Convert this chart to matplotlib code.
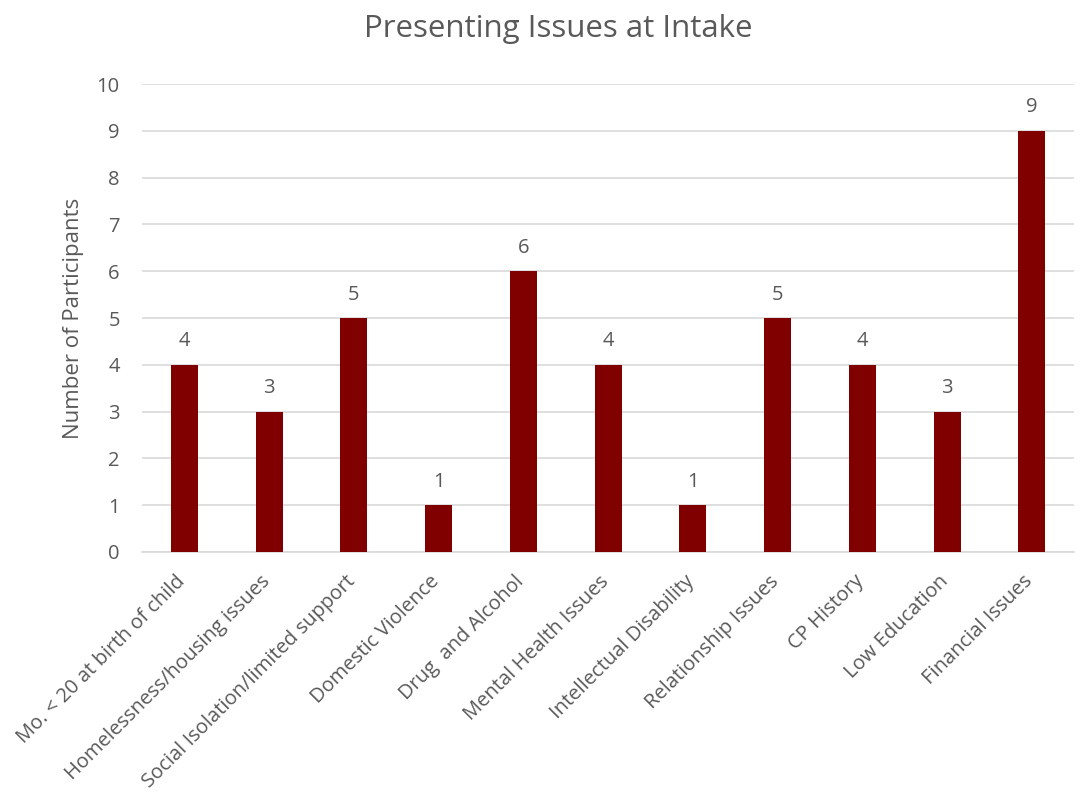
import matplotlib
matplotlib.use("Agg")
import matplotlib.pyplot as plt
import matplotlib.transforms as mtransforms
import numpy as np

plt.rcParams['font.family'] = ['Open Sans', 'DejaVu Sans']

categories = ["Mo. < 20 at birth of child", "Homelessness/housing issues",
              "Social Isolation/limited support", "Domestic Violence",
              "Drug  and Alcohol", "Mental Health Issues", "Intellectual Disability",
              "Relationship Issues", "CP History", "Low Education", "Financial Issues"]
counts = [4, 3, 5, 1, 6, 4, 1, 5, 4, 3, 9]

text_c = '#595959'
bar_c = '#800000'

fig = plt.figure(figsize=(10.84, 7.95), dpi=100)
ax = fig.add_axes([0.131, 0.3057, 0.86, 0.5886])

x = np.arange(len(categories))
bars = ax.bar(x, counts, width=0.32, color=bar_c, zorder=3)
for xi, v in zip(x, counts):
    ax.text(xi, v + 0.5, str(v), ha='center', va='center', fontsize=14.5, color=text_c)

ax.set_xlim(-0.5, len(categories) - 0.5)
ax.set_ylim(0, 10)
ax.set_yticks(range(0, 11))
ax.yaxis.grid(True, color='#d9d9d9', linewidth=1.2, zorder=0)
ax.set_axisbelow(True)
for s in ['top', 'right', 'left']:
    ax.spines[s].set_visible(False)
ax.spines['bottom'].set_color('#d9d9d9')
ax.spines['bottom'].set_linewidth(1.2)
ax.tick_params(axis='both', length=0, colors=text_c, labelsize=14.5)
ax.tick_params(axis='y', pad=16)
ax.set_xticks(x)
ax.set_xticklabels(categories, rotation=45, ha='right', rotation_mode='anchor')
ax.tick_params(axis='x', pad=14)
# shift rotated labels a little left, like the original
shift = mtransforms.ScaledTranslation(-0.09, 0, fig.dpi_scale_trans)
for lab in ax.get_xticklabels():
    lab.set_transform(lab.get_transform() + shift)
ax.set_ylabel("Number of Participants", fontsize=16, color=text_c, labelpad=9)
fig.suptitle("Presenting Issues at Intake", fontsize=22.5, color=text_c, x=0.515, y=0.982)

fig.savefig("out.png", dpi=100)
